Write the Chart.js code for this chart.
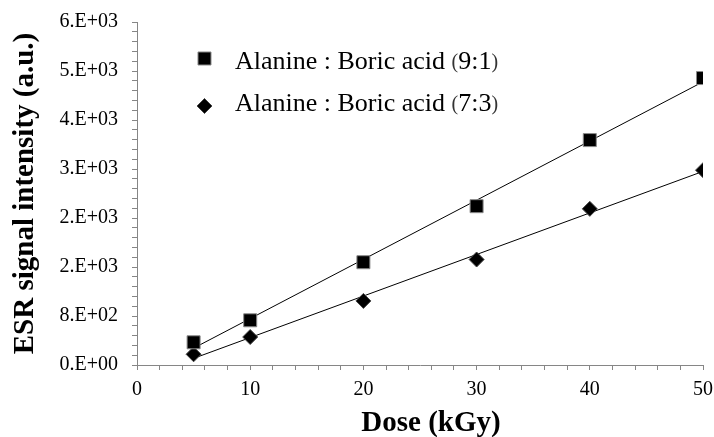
<!DOCTYPE html>
<html>
<head>
<meta charset="utf-8">
<script src="https://cdn.jsdelivr.net/npm/chart.js@4.4.1/dist/chart.umd.min.js"></script>
<style>
html,body{margin:0;padding:0;background:#fff;}
#wrap{width:714px;height:437px;position:relative;}
</style>
</head>
<body>
<div id="wrap"><canvas id="c" width="714" height="437"></canvas></div>
<script>
// ---- data ----
const doses = [5, 10, 20, 30, 40, 50];
const ratio91 = [371, 730, 1678, 2593, 3672, 4685];
const ratio73 = [175, 457, 1046, 1722, 2549, 3181];
const seriesNames = ['Alanine : Boric acid ', 'Alanine : Boric acid '];
const seriesRatios = ['9:1', '7:3'];
const xTitle = 'Dose (kGy)';
const yTitle = 'ESR signal intensity (a.u.)';

function fit(xs, ys) {
  const n = xs.length;
  const mx = xs.reduce((a, b) => a + b, 0) / n;
  const my = ys.reduce((a, b) => a + b, 0) / n;
  let sxy = 0, sxx = 0;
  for (let i = 0; i < n; i++) { sxy += (xs[i] - mx) * (ys[i] - my); sxx += (xs[i] - mx) ** 2; }
  const m = sxy / sxx, b = my - m * mx;
  const x0 = Math.min(...xs), x1 = Math.max(...xs);
  return [{x: x0, y: m * x0 + b}, {x: x1, y: m * x1 + b}];
}
const pts = (ys) => doses.map((d, i) => ({x: d, y: ys[i]}));

function fmtE(value) {
  const v = Math.round(value);
  if (v === 0) return '0.E+00';
  let e = Math.floor(Math.log10(v));
  let m = Math.round(v / Math.pow(10, e));
  if (m === 10) { m = 1; e += 1; }
  return m + '.E+' + String(e).padStart(2, '0');
}

const FONT = "'Liberation Serif', 'Times New Roman', serif";
const AX = '#868686';

const legendPlugin = {
  id: 'customLegend',
  afterDatasetsDraw(chart) {
    const ctx = chart.ctx;
    const rows = [
      {style: 'rect', r: 9.2, y: 58.5, base: 69, name: seriesNames[0], ratio: seriesRatios[0], border: '#8a8a8a'},
      {style: 'rectRot', r: 7.5, y: 106, base: 111, name: seriesNames[1], ratio: seriesRatios[1], border: '#444'}
    ];
    ctx.save();
    rows.forEach(rw => {
      ctx.fillStyle = '#000';
      ctx.strokeStyle = rw.border;
      ctx.lineWidth = 1;
      Chart.helpers.drawPoint(ctx, {pointStyle: rw.style, radius: rw.r, borderWidth: 1}, 204.5, rw.y);
      ctx.textBaseline = 'alphabetic';
      ctx.textAlign = 'left';
      let x = 235;
      ctx.font = '26px ' + FONT;
      ctx.fillStyle = '#000';
      ctx.fillText(rw.name, x, rw.base);
      x += ctx.measureText(rw.name).width;
      ctx.font = '20px ' + FONT;
      ctx.fillStyle = '#333';
      ctx.fillText('(', x, rw.base - 1);
      x += ctx.measureText('(').width;
      ctx.font = '26px ' + FONT;
      ctx.fillStyle = '#000';
      ctx.fillText(rw.ratio, x, rw.base);
      x += ctx.measureText(rw.ratio).width;
      ctx.font = '20px ' + FONT;
      ctx.fillStyle = '#333';
      ctx.fillText(')', x, rw.base - 1);
    });
    // x axis title
    ctx.font = 'bold 29px ' + FONT;
    ctx.fillStyle = '#000';
    ctx.textAlign = 'center';
    ctx.textBaseline = 'alphabetic';
    ctx.fillText(xTitle, 431, 431);
    ctx.restore();
  }
};

new Chart(document.getElementById('c'), {
  type: 'scatter',
  data: {
    datasets: [
      {data: fit(doses, ratio91), showLine: true, borderColor: '#000', borderWidth: 1, pointRadius: 0, order: 3},
      {data: fit(doses, ratio73), showLine: true, borderColor: '#000', borderWidth: 1, pointRadius: 0, order: 3},
      {label: seriesNames[0] + '(' + seriesRatios[0] + ')', data: pts(ratio91), pointStyle: 'rect', pointRadius: 9.2,
       backgroundColor: '#000', borderColor: '#8a8a8a', borderWidth: 1, order: 1},
      {label: seriesNames[1] + '(' + seriesRatios[1] + ')', data: pts(ratio73), pointStyle: 'rectRot', pointRadius: 7.5,
       backgroundColor: '#000', borderColor: '#444', borderWidth: 1, order: 2}
    ]
  },
  options: {
    responsive: false,
    animation: false,
    events: [],
    layout: {padding: {left: 0, right: 11, top: 22, bottom: 0}},
    plugins: {legend: {display: false}, tooltip: {enabled: false}},
    scales: {
      x: {
        type: 'linear', min: 0, max: 50,
        afterFit(s) { s.height = 72; s.paddingLeft = 0; s.paddingRight = 0; },
        ticks: {stepSize: 2, autoSkip: false, maxRotation: 0, padding: 8, color: '#000',
          font: {family: FONT, size: 20},
          callback: (v) => (Math.round(v) % 10 === 0 ? String(Math.round(v)) : '')},
        grid: {drawOnChartArea: false, drawTicks: true, tickLength: 5, color: AX},
        border: {color: AX, width: 1},
        title: {display: false}
      },
      y: {
        type: 'linear', min: 0, max: 5600,
        afterFit(s) { s.width = 137; s.paddingTop = 0; s.paddingBottom = 0; },
        ticks: {stepSize: 160, autoSkip: false, padding: 14, color: '#000',
          font: {family: FONT, size: 20},
          callback: (v) => (Math.round(v) % 800 === 0 ? fmtE(v) : '')},
        grid: {drawOnChartArea: false, drawTicks: true, tickLength: 5, color: AX},
        border: {color: AX, width: 1},
        title: {display: true, text: yTitle, color: '#000', padding: {top: 8, bottom: 0},
          font: {family: FONT, size: 29, weight: 'bold'}}
      }
    }
  },
  plugins: [legendPlugin]
});
</script>
</body>
</html>
